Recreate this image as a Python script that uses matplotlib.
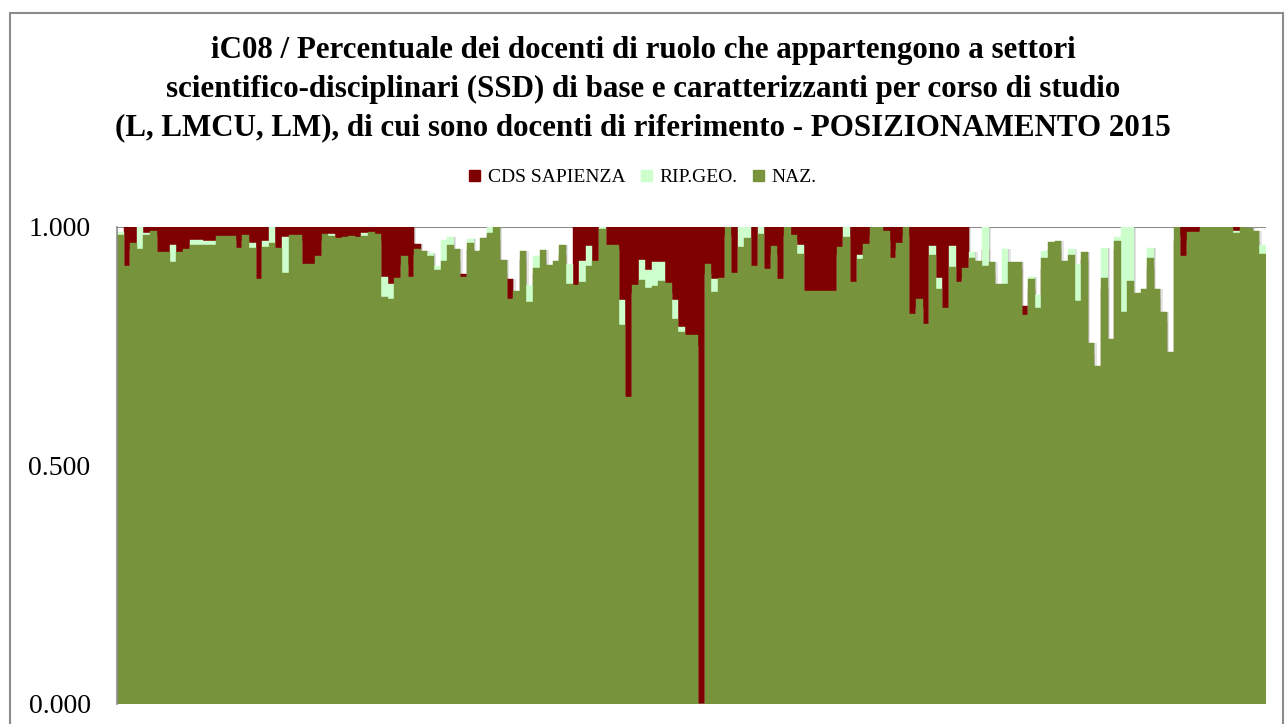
import numpy as np
import matplotlib
matplotlib.use("Agg")
import matplotlib.pyplot as plt
from matplotlib.patches import Rectangle, Patch

# valori (174 corsi di studio)
cds = [
    0.95, 1.0, 1.0, 0.93, 1.0, 1.0, 1.0, 1.0, 1.0, 1.0,
    1.0, 1.0, 1.0, 1.0, 1.0, 1.0, 1.0, 1.0, 1.0, 1.0,
    1.0, 1.0, 1.0, 0.95, 1.0, 1.0, 1.0, 1.0, 1.0, 1.0,
    1.0, 1.0, 1.0, 1.0, 1.0, 1.0, 1.0, 1.0, 1.0, 1.0,
    1.0, 1.0, 1.0, 1.0, 1.0, 0.964, 0.92, 0.90, 0.88, 0.90,
    0.93, 0.93, 0.900, 0.95, 0.92, 0.95, 0.98, 0.97, 0.90, 0.889,
    0.85, 0.93, 0.82, 0.90, 0.93, 0.90, 0.91, 0.94, 0.86, 1.0,
    1.0, 1.0, 1.0, 0.98, 1.0, 1.0, 1.0, 1.0, 1.0, 1.0,
    1.0, 1.0, 1.0, 1.0, 1.0, 1.0, 1.0, 1.0, 1.0, 1.0,
    1.0, 1.0, 0.95, 1.0, 0.96, 0.97, 1.0, 0.97, 1.0, 1.0,
    1.0, 0.97, 1.0, 1.0, 1.0, 1.0, 1.0, 1.0, 1.0, 1.0,
    0.96, 1.0, 1.0, 1.0, 0.96, 0.97, 1.0, 1.0, 1.0, 0.98,
    1.0, 1.0, 1.0, 1.0, 1.0, 1.0, 1.0, 1.0, 1.0, 0.92,
    0.90, 0.95, 0.90, 0.86, 0.85, 0.90, 0.91, 0.834, 0.87, 0.80,
    0.91, 0.95, 0.95, 0.91, 0.92, 0.82, 0.93, 0.73, 0.69, 0.87,
    0.74, 0.95, 0.80, 0.86, 0.84, 0.85, 0.91, 0.85, 0.80, 0.72,
    0.97, 1.0, 1.0, 1.0, 0.98, 0.98, 0.98, 0.98, 0.98, 1.0,
    0.98, 0.97, 0.97, 0.93]

rip = [
    0.989, 0.90, 0.95, 1.0, 0.987, 0.98, 0.93, 0.94, 0.962, 0.93,
    0.94, 0.971, 0.971, 0.970, 0.970, 0.97, 0.97, 0.97, 0.94, 0.97,
    0.966, 0.87, 0.970, 1.0, 0.94, 0.978, 0.97, 0.97, 0.90, 0.90,
    0.92, 0.97, 0.985, 0.96, 0.97, 0.97, 0.96, 0.987, 0.97, 0.97,
    0.894, 0.880, 0.87, 0.92, 0.88, 0.94, 0.93, 0.944, 0.917, 0.971,
    0.979, 0.94, 0.88, 0.974, 0.93, 0.96, 1.0, 0.98, 0.91, 0.83,
    0.85, 0.93, 0.878, 0.939, 0.93, 0.90, 0.91, 0.95, 0.922, 0.86,
    0.928, 0.959, 0.91, 1.0, 0.95, 0.95, 0.846, 0.62, 0.86, 0.929,
    0.909, 0.926, 0.925, 0.86, 0.846, 0.789, 0.75, 0.75, 0.0, 0.90,
    0.889, 0.87, 0.98, 0.88, 1.0, 1.0, 0.90, 1.0, 0.89, 0.94,
    0.87, 0.98, 0.97, 0.962, 0.84, 0.84, 0.84, 0.84, 0.84, 0.94,
    1.0, 0.86, 0.941, 0.95, 0.98, 0.98, 0.97, 0.91, 0.95, 0.98,
    0.80, 0.83, 0.78, 0.959, 0.893, 0.81, 0.959, 0.86, 0.89, 0.947,
    0.91, 1.0, 0.90, 0.86, 0.952, 0.91, 0.90, 0.80, 0.894, 0.857,
    0.948, 0.95, 0.95, 0.91, 0.952, 0.921, 0.93, 0.74, 0.69, 0.954,
    0.75, 0.978, 1.0, 1.0, 0.84, 0.85, 0.954, 0.85, 0.80, 0.72,
    0.98, 0.92, 0.97, 0.97, 0.99, 0.99, 0.99, 0.99, 0.99, 0.990,
    0.99, 0.98, 0.98, 0.961]

naz = [
    0.982, 0.917, 0.966, 0.952, 0.982, 0.990, 0.947, 0.947, 0.926, 0.947,
    0.952, 0.961, 0.961, 0.961, 0.961, 0.980, 0.981, 0.980, 0.954, 0.983,
    0.955, 0.890, 0.956, 0.966, 0.954, 0.903, 0.983, 0.983, 0.922, 0.922,
    0.938, 0.984, 0.981, 0.975, 0.979, 0.980, 0.977, 0.980, 0.988, 0.984,
    0.852, 0.849, 0.893, 0.938, 0.894, 0.952, 0.948, 0.939, 0.908, 0.927,
    0.962, 0.953, 0.895, 0.966, 0.948, 0.975, 0.987, 1.0, 0.930, 0.848,
    0.865, 0.948, 0.841, 0.913, 0.950, 0.919, 0.927, 0.961, 0.880, 0.877,
    0.884, 0.917, 0.927, 0.994, 0.962, 0.962, 0.793, 0.643, 0.877, 0.888,
    0.871, 0.876, 0.885, 0.882, 0.806, 0.779, 0.772, 0.773, 0.0, 0.921,
    0.862, 0.891, 1.0, 0.903, 0.956, 0.976, 0.917, 0.985, 0.911, 0.960,
    0.889, 1.0, 0.983, 0.942, 0.865, 0.864, 0.865, 0.865, 0.865, 0.956,
    0.977, 0.883, 0.931, 0.964, 1.0, 1.0, 0.990, 0.933, 0.966, 1.0,
    0.817, 0.848, 0.795, 0.941, 0.868, 0.829, 0.915, 0.883, 0.912, 0.933,
    0.927, 0.917, 0.926, 0.880, 0.880, 0.926, 0.926, 0.815, 0.889, 0.829,
    0.933, 0.968, 0.970, 0.928, 0.940, 0.843, 0.947, 0.756, 0.708, 0.892,
    0.765, 0.969, 0.821, 0.886, 0.860, 0.869, 0.934, 0.869, 0.821, 0.737,
    1.0, 0.938, 0.989, 0.989, 1.0, 1.0, 1.0, 1.0, 1.0, 0.987,
    1.0, 0.997, 0.991, 0.943]

serie = ["CDS SAPIENZA", "RIP.GEO.", "NAZ."]
colori = ["#7f0000", "#ccffcc", "#77933c"]
titolo = ("iC08 / Percentuale dei docenti di ruolo che appartengono a settori\n"
          "scientifico-disciplinari (SSD) di base e caratterizzanti per corso di studio\n"
          "(L, LMCU, LM), di cui sono docenti di riferimento - POSIZIONAMENTO 2015")

plt.rcParams['font.family'] = ['Liberation Serif', 'DejaVu Serif']

fig = plt.figure(figsize=(12.85, 7.24), dpi=100)
W, H = 1285, 724
ax = fig.add_axes([117 / W, 1 - 703.5 / H, (1266 - 117) / W, (703.5 - 226.5) / H])

x = np.arange(len(naz))

# ombra leggera a destra delle barre (come in Excel)
alto = np.maximum.reduce([np.array(cds), np.array(rip), np.array(naz)])
ax.bar(x + 0.35, alto, width=1.0, color="#e4e4e4", linewidth=0, zorder=1.5)
ax.bar(x + 0.15, alto, width=1.0, color="#c6c6c6", linewidth=0, zorder=1.6)

# barre sovrapposte: CDS dietro, poi RIP.GEO., NAZ. davanti
for valori, col in zip([cds, rip, naz], colori):
    ax.bar(x, valori, width=1.0, color=col, edgecolor=col, linewidth=0.3, zorder=2)

ax.set_xlim(-0.5, len(naz) - 0.5)
ax.set_ylim(0, 1)
ax.set_yticks([0, 0.5, 1.0])
ax.set_yticklabels(["0.000", "0.500", "1.000"], fontsize=20)
ax.set_xticks([])
ax.tick_params(axis='y', length=0, pad=19)
ax.axhline(1.0, color="#8c8c8c", lw=1.5, zorder=1.8)
for s in ["top", "right", "bottom"]:
    ax.spines[s].set_visible(False)
ax.spines["left"].set_color("#8c8c8c")
ax.spines["left"].set_linewidth(1.2)
ax.spines["left"].set_zorder(3)

# titolo
fig.text(643 / W, 1 - 89 / H, titolo, ha="center", va="center",
         fontsize=22.3, fontweight="bold", linespacing=1.45)

# legenda
handles = [Patch(facecolor=c, edgecolor=c) for c in colori]
fig.legend(handles, serie, loc="center", bbox_to_anchor=(643 / W, 1 - 178 / H),
           ncol=3, frameon=False, fontsize=14, handlelength=0.55, handleheight=0.55,
           handletextpad=0.4, columnspacing=0.8)

# bordo dell'area del grafico
fig.add_artist(Rectangle((10 / W, -0.01), (1283 - 10) / W, 1 - 13 / H + 0.01,
                         transform=fig.transFigure, fill=False,
                         edgecolor="#8c8c8c", linewidth=1.5))

fig.savefig("out.png", dpi=100)
